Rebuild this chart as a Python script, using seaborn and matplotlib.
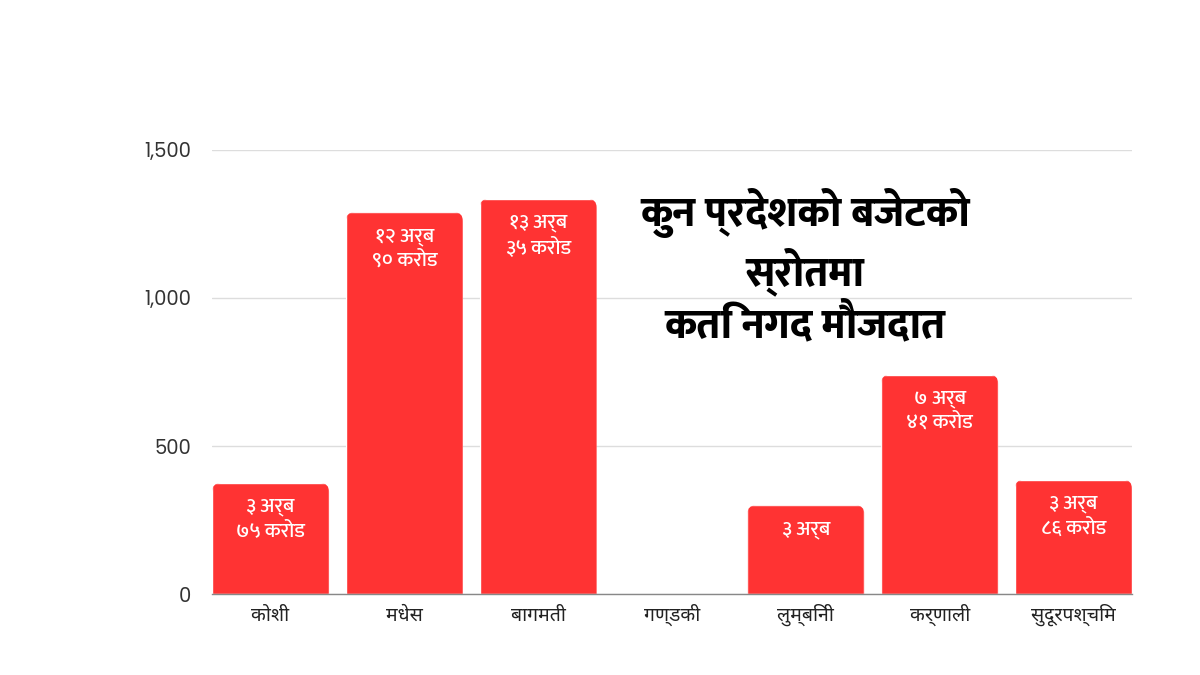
import os
import matplotlib
matplotlib.use("Agg")
import matplotlib.pyplot as plt
from matplotlib import font_manager as fm
from matplotlib.patches import FancyBboxPatch
import seaborn as sns
import pandas as pd

# ---- data ----
provinces = ["कोशी", "मधेस", "बागमती", "गण्डकी", "लुम्बिनी", "कर्णाली", "सुदूरपश्चिम"]
cash_crore = [375, 1290, 1335, 0, 300, 741, 386]
bar_labels = ["३ अर्ब\n७५ करोड", "१२ अर्ब\n९० करोड", "१३ अर्ब\n३५ करोड", "",
              "३ अर्ब", "७ अर्ब\n४१ करोड", "३ अर्ब\n८६ करोड"]
y_ticks = [0, 500, 1000, 1500]
y_tick_labels = ["0", "500", "1,000", "1,500"]
title = "कुन प्रदेशको बजेटको\nस्रोतमा\nकति नगद मौजदात"

GF = "/usr/share/fonts/truetype/google-fonts/"


def font(cands):
    for c in cands:
        p = os.path.join(GF, c)
        if os.path.exists(p):
            return fm.FontProperties(fname=p)
    return fm.FontProperties(family="DejaVu Sans")


f_title = font(["Mukta-ExtraBold.ttf", "Mukta-Bold.ttf", "NotoSansDevanagariUI-Bold.ttf"])
f_label = font(["NotoSansDevanagari-Regular.ttf", "NotoSansDevanagariUI-Regular.ttf", "Mukta-Regular.ttf"])
f_bar = font(["NotoSansDevanagari-Medium.ttf", "NotoSansDevanagari-Regular.ttf", "Mukta-Medium.ttf"])
f_num = font(["Poppins-Regular.ttf"])

sns.set_theme(style="white")
df = pd.DataFrame({"province": provinces, "value": cash_crore})

fig = plt.figure(figsize=(12, 6.75), dpi=100)
ax = fig.add_axes([212 / 1200, 1 - 594 / 675, (1132 - 212) / 1200, (594 - 150) / 675])
sns.barplot(data=df, x="province", y="value", color="#FF3333", saturation=1,
            width=0.875, ax=ax, zorder=3)

ax.set_ylim(0, 1500)
ax.set_xlim(-0.4375, len(provinces) - 1 + 0.4375)

# rounded top corners via clip paths derived from the bars
fig.canvas.draw()
bbox = ax.get_window_extent()
px_x = (ax.get_xlim()[1] - ax.get_xlim()[0]) / bbox.width
px_y = (ax.get_ylim()[1] - ax.get_ylim()[0]) / bbox.height
r = 9 * px_x
for p in ax.patches:
    h = p.get_height()
    if h <= 0:
        continue
    clip = FancyBboxPatch((p.get_x(), -100), p.get_width(), h + 100,
                          boxstyle=f"round,pad=0,rounding_size={r}",
                          mutation_aspect=px_y / px_x, transform=ax.transData)
    p.set_clip_path(clip)

# bar labels
for p, lab in zip(ax.patches, bar_labels):
    if not lab:
        continue
    ax.annotate(lab, (p.get_x() + p.get_width() / 2, p.get_height()),
                xytext=(0, -10), textcoords="offset points", ha="center", va="top",
                color="white", fontproperties=f_bar, fontsize=15, linespacing=1.3,
                zorder=5)

ax.set_yticks(y_ticks)
ax.set_yticklabels(y_tick_labels, fontproperties=f_num, fontsize=14, color="#333333")
ax.set_xticks(range(len(provinces)))
ax.set_xticklabels(provinces, fontproperties=f_label, fontsize=14, color="#222222")
ax.tick_params(axis="both", length=0)
ax.tick_params(axis="y", pad=15)
ax.tick_params(axis="x", pad=7)
ax.set_xlabel("")
ax.set_ylabel("")
ax.yaxis.grid(True, color="#dddddd", linewidth=1, zorder=0)
ax.set_axisbelow(True)
for s in ["top", "right", "left"]:
    ax.spines[s].set_visible(False)
ax.spines["bottom"].set_color("#888888")
ax.spines["bottom"].set_linewidth(1)
ax.spines["bottom"].set_zorder(4)

fig.text(805 / 1200, 1 - 268 / 675, title, ha="center", va="center",
         fontproperties=f_title, fontsize=30, color="black", linespacing=1.24)

fig.savefig("out.png", dpi=100, facecolor="white")
